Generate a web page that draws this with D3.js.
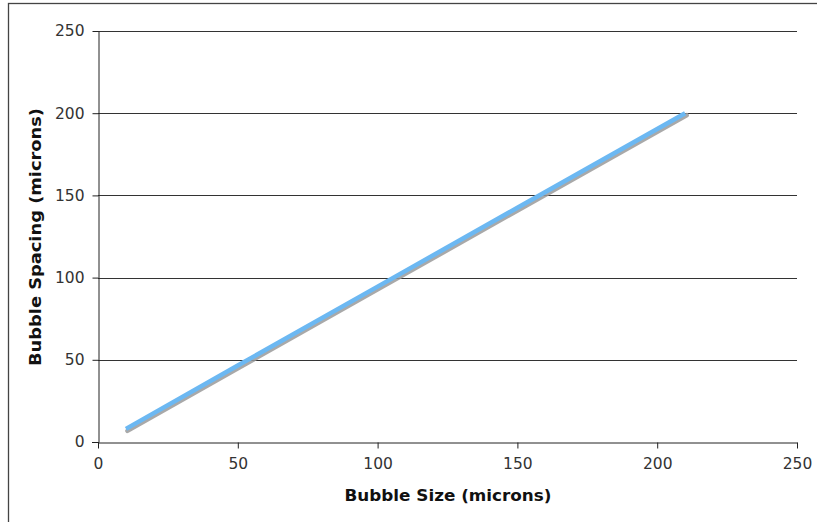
<!DOCTYPE html>
<html><head><meta charset="utf-8">
<script src="https://cdn.jsdelivr.net/npm/d3@7"></script>
<style>
html,body{margin:0;padding:0;background:#fff;}
svg{display:block;}
text{font-family:"DejaVu Sans",Verdana,sans-serif;}
</style></head>
<body>
<script>
const bubbleSize = [10, 50, 100, 150, 210];
const bubbleSpacing = [8, 46.5, 94.5, 142.5, 200];
const xTicks = [0, 50, 100, 150, 200, 250];
const yTicks = [0, 50, 100, 150, 200, 250];
const xTitle = "Bubble Size (microns)";
const yTitle = "Bubble Spacing (microns)";

const W = 817, H = 522;
const svg = d3.select("body").append("svg").attr("width", W).attr("height", H);
svg.append("rect").attr("x", 8.5).attr("y", 3.5).attr("width", W + 20).attr("height", H + 20)
  .attr("fill", "#fff").attr("stroke", "#444").attr("stroke-width", 1.3);

const x = d3.scaleLinear().domain([0, 250]).range([98, 797]);
const y = d3.scaleLinear().domain([0, 250]).range([442, 31]);

svg.append("g").selectAll("line").data(yTicks.filter(d => d > 0)).join("line")
  .attr("x1", x(0)).attr("x2", x(250)).attr("y1", d => Math.round(y(d)) + 0.5).attr("y2", d => Math.round(y(d)) + 0.5)
  .attr("stroke", "#333").attr("stroke-width", 1);

const xAxis = svg.append("g").attr("transform", `translate(0,${Math.round(y(0)) + 0.5})`)
  .call(d3.axisBottom(x).tickValues(xTicks).tickSize(6).tickPadding(9).tickSizeOuter(0));
const yAxis = svg.append("g").attr("transform", `translate(${Math.round(x(0)) + 0.5},0)`)
  .call(d3.axisLeft(y).tickValues(yTicks).tickSize(6).tickPadding(8).tickSizeOuter(0));
[xAxis, yAxis].forEach(g => {
  g.select(".domain").attr("stroke", "#222");
  g.selectAll(".tick line").attr("stroke", "#222");
  g.selectAll(".tick text").attr("fill", "#333").style("font-size", "15.5px").style("font-family", '"DejaVu Sans",Verdana,sans-serif');
});
svg.append("line").attr("x1", x(0) - 6).attr("x2", x(0)).attr("y1", Math.round(y(0)) + 0.5).attr("y2", Math.round(y(0)) + 0.5).attr("stroke", "#222");
svg.append("line").attr("x1", Math.round(x(0)) + 0.5).attr("x2", Math.round(x(0)) + 0.5).attr("y1", y(0)).attr("y2", y(0) + 6).attr("stroke", "#222");

const pts = bubbleSize.map((s, i) => [s, bubbleSpacing[i]]);
const line = d3.line().x(d => x(d[0])).y(d => y(d[1]));
svg.append("path").datum(pts).attr("d", line).attr("transform", "translate(1.5,2)")
  .attr("fill", "none").attr("stroke", "#9a9a9a").attr("stroke-width", 4.5).attr("stroke-linecap", "round").attr("opacity", 0.85);
svg.append("path").datum(pts).attr("d", line)
  .attr("fill", "none").attr("stroke", "#6cb8f2").attr("stroke-width", 4.5).attr("stroke-linecap", "butt");

svg.append("text").attr("x", 448).attr("y", 501).attr("text-anchor", "middle")
  .attr("textLength", 207).attr("lengthAdjust", "spacingAndGlyphs")
  .style("font-size", "16px").style("font-weight", "bold").attr("fill", "#111").text(xTitle);
svg.append("text").attr("transform", "translate(41,237) rotate(-90)").attr("text-anchor", "middle")
  .attr("textLength", 258).attr("lengthAdjust", "spacingAndGlyphs")
  .style("font-size", "16px").style("font-weight", "bold").attr("fill", "#111").text(yTitle);
</script>
</body></html>
